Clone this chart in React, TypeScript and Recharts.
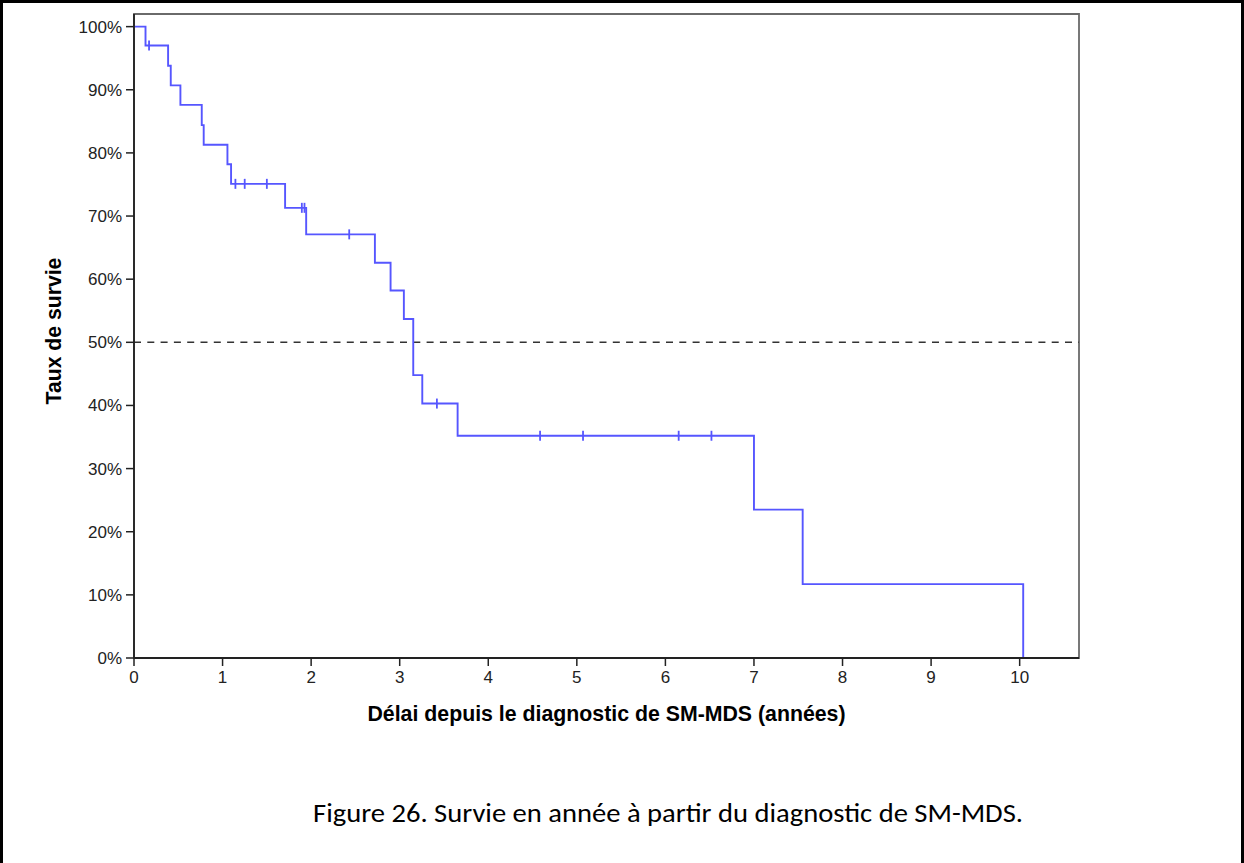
import React from "react";
import {
  ComposedChart,
  Line,
  Scatter,
  XAxis,
  YAxis,
  ReferenceLine,
  ReferenceArea,
  Label,
} from "recharts";

// Kaplan-Meier steps (years, % surviving)
const eventTimes = [0, 0.13, 0.385, 0.415, 0.524, 0.765, 0.787, 1.055, 1.096, 1.706, 1.944, 2.72, 2.897, 3.047, 3.153, 3.255, 3.654, 7.0, 7.55, 10.04];
const survivalPct = [100, 97.0, 93.8, 90.7, 87.6, 84.4, 81.3, 78.2, 75.1, 71.3, 67.1, 62.6, 58.2, 53.7, 44.8, 40.3, 35.2, 23.5, 11.7, 0];

// censored cases (+ marks)
const censorTimes = [0.17, 1.145, 1.25, 1.5, 1.895, 1.925, 2.43, 3.42, 4.585, 5.07, 6.15, 6.52];
const censorPct = [97.0, 75.1, 75.1, 75.1, 71.3, 71.3, 67.1, 40.3, 35.2, 35.2, 35.2, 35.2];

const xTicks = [0, 1, 2, 3, 4, 5, 6, 7, 8, 9, 10];
const yTicks = [0, 10, 20, 30, 40, 50, 60, 70, 80, 90, 100];
const xMax = 10.67;
const yMax = 102;

const steps = eventTimes.map((t, i) => ({ t, s: survivalPct[i] }));
const censored = censorTimes.map((t, i) => ({ t, s: censorPct[i] }));

const sans = "'Liberation Sans', Arial, sans-serif";
const lineColor = "#5656ff";

const CensorMark = (props: any) => {
  const { cx, cy } = props;
  return (
    <line x1={cx} x2={cx} y1={cy - 5} y2={cy + 5} stroke={lineColor} strokeWidth={1.8} />
  );
};

export default function App() {
  return (
    <div
      style={{
        position: "fixed",
        left: 0,
        top: 0,
        width: 1244,
        height: 863,
        overflow: "hidden",
        background: "#fff",
      }}
    >
      <div
        style={{
          position: "absolute",
          left: 0,
          top: 0,
          width: 1244,
          height: 900,
          border: "3px solid #000",
          boxSizing: "border-box",
        }}
      />
      <div style={{ position: "absolute", left: 0, top: 0 }}>
        <ComposedChart
          width={1244}
          height={863}
          margin={{ top: 14, right: 165, bottom: 125, left: 54 }}
        >
          <ReferenceArea
            x1={0}
            x2={xMax}
            y1={0}
            y2={yMax}
            fill="none"
            stroke="#6a6a6a"
            strokeWidth={1.8}
          />
          <XAxis
            dataKey="t"
            type="number"
            domain={[0, xMax]}
            ticks={xTicks}
            height={80}
            tickSize={8}
            tickMargin={5}
            axisLine={{ stroke: "#222", strokeWidth: 1.8 }}
            tickLine={{ stroke: "#222", strokeWidth: 1.5 }}
            tick={{ fontSize: 17, fill: "#222", fontFamily: sans }}
          >
            <Label
              content={(p: any) => {
                const vb = p.viewBox;
                return (
                  <text
                    x={vb.x + vb.width / 2}
                    y={721}
                    textAnchor="middle"
                    fontFamily={sans}
                    fontWeight="bold"
                    fontSize={21.3}
                    fill="#000"
                  >
                    Délai depuis le diagnostic de SM-MDS (années)
                  </text>
                );
              }}
            />
          </XAxis>
          <YAxis
            type="number"
            domain={[0, yMax]}
            ticks={yTicks}
            width={80}
            tickSize={8}
            tickMargin={4}
            tickFormatter={(v: number) => `${v}%`}
            axisLine={{ stroke: "#222", strokeWidth: 1.8 }}
            tickLine={{ stroke: "#222", strokeWidth: 1.5 }}
            tick={{ fontSize: 17, fill: "#222", fontFamily: sans }}
          >
            <Label
              content={() => (
                <text
                  x={53}
                  y={331}
                  transform="rotate(-90, 53, 331)"
                  textAnchor="middle"
                  dominantBaseline="central"
                  fontFamily={sans}
                  fontWeight="bold"
                  fontSize={21.2}
                  fill="#000"
                >
                  Taux de survie
                </text>
              )}
            />
          </YAxis>
          <ReferenceLine y={50} stroke="#333" strokeWidth={1.5} strokeDasharray="7 6.3" />
          <Line
            data={steps}
            dataKey="s"
            type="stepAfter"
            stroke={lineColor}
            strokeWidth={1.9}
            dot={false}
            activeDot={false}
            isAnimationActive={false}
          />
          <Scatter
            data={censored}
            dataKey="s"
            shape={CensorMark}
            isAnimationActive={false}
          />
        </ComposedChart>
      </div>
      <svg
        width={1244}
        height={863}
        style={{ position: "absolute", left: 0, top: 0, pointerEvents: "none" }}
      >
        <text
          x={668}
          y={822}
          textAnchor="middle"
          fontFamily="Carlito, Calibri, 'Open Sans', 'Noto Sans', sans-serif"
          fontSize={27}
          fill="#000"
          textLength={710}
          lengthAdjust="spacingAndGlyphs"
        >
          Figure 26. Survie en année à partir du diagnostic de SM-MDS.
        </text>
      </svg>
    </div>
  );
}
